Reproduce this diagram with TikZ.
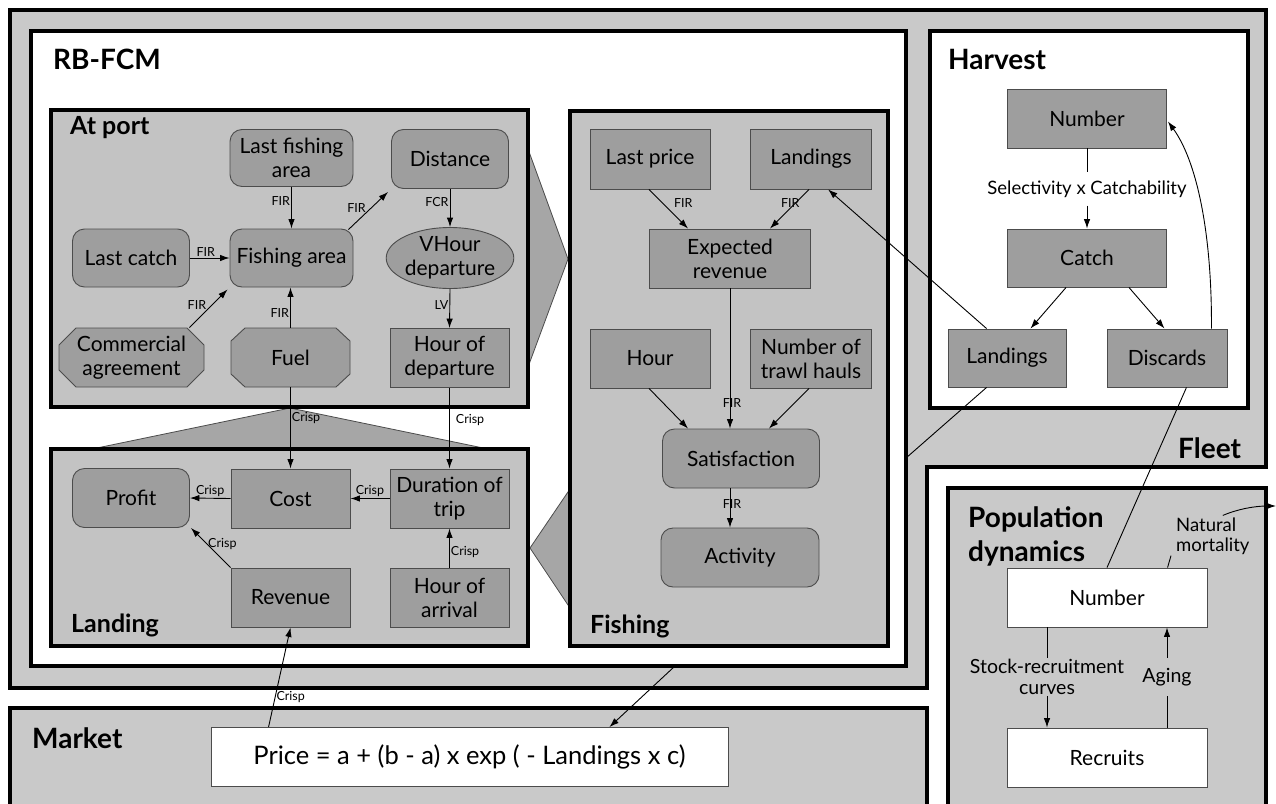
\documentclass[tikz,border=0pt]{standalone}
\usepackage{fontspec}
\setmainfont{Lato}
\usetikzlibrary{calc,arrows.meta,shapes.geometric}
\definecolor{fleetgray}{gray}{0.79}
\definecolor{boxgray}{gray}{0.765}
\definecolor{nodegray}{gray}{0.62}
\definecolor{wedgegray}{gray}{0.65}
\tikzset{
  thickbox/.style={line width=3.4pt, draw=black, line join=miter},
  nd/.style={draw=black!70, line width=0.9pt, fill=nodegray, font=\fontsize{21}{24}\selectfont, align=center, inner sep=1pt, minimum width=119pt, minimum height=59pt},
  rnd/.style={nd, rounded corners=12pt},
  wnd/.style={nd, fill=white},
  onode/.style={nd, draw=none, fill=none},
  octline/.style={draw=black!70, line width=0.9pt, fill=nodegray},
  lab/.style={font=\fontsize{12.5}{13}\selectfont, inner sep=1pt},
  mlab/.style={font=\fontsize{18.5}{20}\selectfont, inner sep=1pt, align=center},
  arr/.style={-{Latex[length=9.5pt,width=6.5pt]}, line width=0.9pt, draw=black},
  ln/.style={line width=0.9pt, draw=black},
  bigtitle/.style={font=\bfseries\fontsize{28}{34}\selectfont, anchor=west, inner sep=0pt},
  subtitle/.style={font=\bfseries\fontsize{25}{27}\selectfont, anchor=west, inner sep=0pt},
  wedge/.style={fill=wedgegray, draw=black!70, line width=0.8pt},
}
\begin{document}
\begin{tikzpicture}[x=1pt,y=-1pt]
\useasboundingbox (0,0) rectangle (1276,803);
% Fleet and main frames
\draw[thickbox, fill=fleetgray] (10,10) -- (1266,10) -- (1266,467) -- (927,467) -- (927,688) -- (10,688) -- cycle;
\draw[thickbox, fill=white] (31,31) rectangle (906,666);
\draw[thickbox, fill=white] (930,31) rectangle (1248,408);
% wedges
\draw[wedge] (528,149) -- (568,259) -- (528,367) -- cycle;
\draw[wedge] (290,408) -- (488,449) -- (92,449) -- cycle;
\draw[wedge] (570,489) -- (530,548) -- (570,608) -- cycle;
% sub boxes
\draw[thickbox, fill=boxgray] (51,110) rectangle (528,407);
\draw[thickbox, fill=boxgray] (570,111) rectangle (888,646);
\draw[thickbox, fill=boxgray] (51,449) rectangle (528,646);
% market and population
\draw[thickbox, fill=fleetgray] (10,708) rectangle (927,812);
\draw[thickbox, fill=fleetgray] (948,488) rectangle (1266,812);
% titles
\node[bigtitle] (tRB) at (53,59) {RB-FCM};
\node[bigtitle] (tHarv) at (948,59) {Harvest};
\node[bigtitle] (tFleet) at (1178,448) {Fleet};
\node[bigtitle] (tMarket) at (32,738) {Market};
\node[bigtitle, align=left] (tPop) at (968,536) {Population\\dynamics};
\node[subtitle] (tAt) at (70,128) {At port};
\node[subtitle] (tLand) at (71,625) {Landing};
\node[subtitle] (tFish) at (590,626) {Fishing};
% At port nodes
\node[rnd, minimum width=123pt, minimum height=57pt] (lfa) at (291.5,158) {Last fishing\\area};
\node[rnd, minimum width=117pt] (dist) at (450,159) {Distance};
\node[rnd, minimum width=117pt, minimum height=58pt] (lc) at (131,258) {Last catch};
\node[rnd, minimum width=123pt, minimum height=58pt] (fa) at (291.5,258) {Fishing area};
\node[nd, ellipse, minimum width=120pt, minimum height=61pt, inner sep=0pt] (vh) at (450,258) {VHour\\departure};
\filldraw[octline] (59,345) -- (76,328) -- (187,328) -- (204,345) -- (204,370) -- (187,387) -- (76,387) -- (59,370) -- cycle;
\node[onode, minimum width=145pt] (ca) at (131.5,357.5) {Commercial\\agreement};
\filldraw[octline] (231,341) -- (245,328) -- (336,328) -- (350,341) -- (350,374) -- (336,387) -- (245,387) -- (231,374) -- cycle;
\node[onode, minimum width=119pt] (fuel) at (290.5,357.5) {Fuel};
\node[nd] (hod) at (449.5,358) {Hour of\\departure};
% Landing nodes
\node[rnd, minimum width=117pt] (profit) at (131,498) {Profit};
\node[nd] (cost) at (290.5,498.5) {Cost};
\node[nd] (dur) at (449.5,498.5) {Duration of\\trip};
\node[nd] (rev) at (290.5,597.5) {Revenue};
\node[nd] (hoa) at (449.5,597.5) {Hour of\\arrival};
% Fishing nodes
\node[nd, minimum width=120pt, minimum height=60pt] (lp) at (650,159) {Last price};
\node[nd, minimum width=121pt, minimum height=60pt] (fland) at (811,159) {Landings};
\node[nd, minimum width=161pt] (er) at (730,258.5) {Expected\\revenue};
\node[nd, minimum width=120pt] (hour) at (650,358.5) {Hour};
\node[nd, minimum width=121pt] (nth) at (811,358.5) {Number of\\trawl hauls};
\node[rnd, minimum width=157pt] (sat) at (741,458.5) {Satisfaction};
\node[rnd, minimum width=158pt] (act) at (740,557.5) {Activity};
% Harvest nodes
\node[nd, minimum width=159pt] (hnum) at (1087,118.5) {Number};
\node[mlab, inner ysep=8pt] (sel) at (1087,189) {Selectivity x Catchability};
\node[nd, minimum width=159pt, minimum height=58pt] (catch) at (1087,258) {Catch};
\node[nd, minimum width=118pt, minimum height=58pt] (hland) at (1007,358) {Landings};
\node[nd, minimum width=120pt, minimum height=58pt] (disc) at (1167,358) {Discards};
% Population nodes
\node[wnd, minimum width=200pt] (pnum) at (1107,597.5) {Number};
\node[wnd, minimum width=200pt] (rec) at (1107,757.5) {Recruits};
\node[mlab, font=\fontsize{19.5}{21}\selectfont] (src) at (1047,677) {Stock-recruitment\\curves};
\node[mlab, font=\fontsize{19.5}{21}\selectfont, inner ysep=10pt] (aging) at (1167,677) {Aging};
\node[mlab, align=left, anchor=west] (nm) at (1175,536) {Natural\\mortality};
% Market
\node[wnd, minimum width=517pt, font=\fontsize{25.5}{27}\selectfont] (price) at (469.5,757) {Price = a + (b - a) x exp ( - Landings x c)};
% At port edges
\draw[arr] (lfa.south) -- node[lab, left, pos=0.35]{FIR} (fa.north);
\draw[arr] ($(fa.north east)+(-5,1)$) -- node[lab, above left, pos=0.45, inner sep=0pt]{FIR} ($(dist.south west)+(-3,3)$);
\draw[arr] (dist.south) -- node[lab, left, pos=0.35]{FCR} (vh.north);
\draw[arr] (lc.east) -- node[lab, above, pos=0.4]{FIR} (fa.west);
\draw[arr] ($(ca.north east)+(-15,0)$) -- node[lab, above left, pos=0.45, inner sep=0pt]{FIR} ($(fa.south west)+(-2,2)$);
\draw[arr] (fuel.north) -- node[lab, left, pos=0.35]{FIR} (fuel.north |- fa.south);
\draw[arr] (vh.south) -- node[lab, left, pos=0.4]{LV} (hod.north);
\draw[arr] (fuel.south) -- node[lab, right, pos=0.38]{Crisp} (fuel.south |- cost.north);
\draw[arr] (hod.south) -- node[lab, right=5pt, pos=0.4]{Crisp} (dur.north);
% Landing edges
\draw[arr] (cost.west) -- node[lab, above]{Crisp} (profit.east);
\draw[arr] (dur.west) -- node[lab, above]{Crisp} (cost.east);
\draw[arr] (rev.north west) -- node[lab, right, pos=0.6]{Crisp} ($(profit.south east)+(1,0)$);
\draw[arr] (hoa.north) -- node[lab, right, pos=0.4]{Crisp} (dur.south);
\draw[arr] ($(price.north west)+(58,0)$) -- node[lab, right, pos=0.3]{Crisp} (rev.south);
% Fishing edges
\draw[arr] ($(lp.south)+(-1,0)$) -- node[lab, right=10pt, pos=0.35]{FIR} ($(er.north west)+(39,0)$);
\draw[arr] ($(fland.south)+(-2,0)$) -- node[lab, pos=0.35, xshift=-5pt]{FIR} ($(er.north east)+(-41,0)$);
\draw[arr] (er.south) -- node[lab, pos=0.82, xshift=2pt]{FIR} (er.south |- sat.north);
\draw[arr] ($(hour.south)+(-1,0)$) -- ($(sat.north west)+(26,0)$);
\draw[arr] ($(nth.south)+(-2,0)$) -- ($(sat.north east)+(-51,0)$);
\draw[arr] (sat.south -| er.south) -- node[lab, pos=0.4, xshift=2pt]{FIR} (er.south |- act.north);
% Harvest edges
\draw[ln] (hnum.south) -- (sel.north);
\draw[arr] (sel.south) -- (catch.north);
\draw[arr] ($(catch.south west)+(59,0)$) -- ($(hland.north east)+(-36,0)$);
\draw[arr] ($(catch.south east)+(-38,0)$) -- ($(disc.north west)+(58,0)$);
\draw[arr] ($(disc.north east)+(-16,0)$) .. controls (1212,230) and (1196,160) .. ($(hnum.east)+(1,3)$);
\draw[arr] ($(hland.north west)+(39,0)$) -- ($(fland.south west)+(78,0)$);
\coordinate (rbedge) at (906,458);
\draw[ln] ($(hland.south west)+(39,0)$) -- (rbedge);
\draw[ln] ($(disc.south east)+(-41,0)$) -- (pnum.north);
% Market edge
\coordinate (rbbot) at (675,666);
\draw[arr] (rbbot) -- ($(price.north east)+(-119,0)$);
% Population edges
\draw[ln] (pnum.south -| src.north) -- (src.north);
\draw[arr] (src.south) -- (src.south |- rec.north);
\draw[ln] (rec.north -| aging.south) -- (aging.south);
\draw[arr] (aging.north) -- (aging.north |- pnum.south);
\draw[ln] ($(pnum.north west)+(161,0)$) -- ($(nm.south west)+(-4,0)$);
\coordinate (nmout) at (1276,506);
\draw[arr] ($(nm.north)+(10,-1)$) .. controls (1238,509) and (1255,506) .. (nmout);
\end{tikzpicture}
\end{document}
